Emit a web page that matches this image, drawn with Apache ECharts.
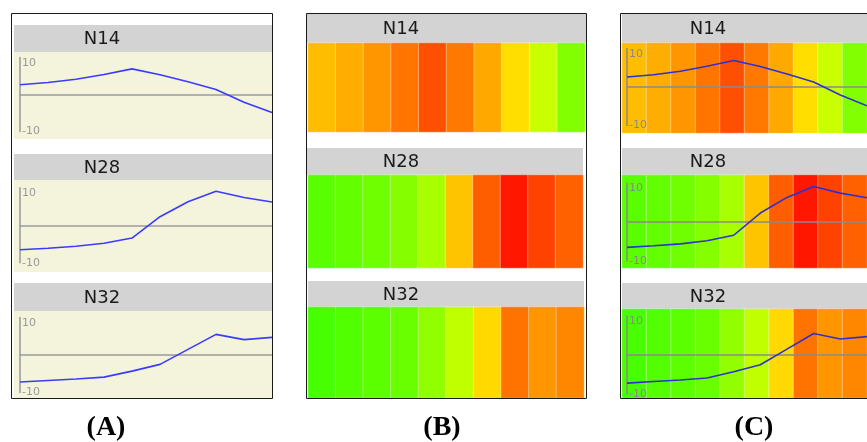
<!DOCTYPE html>
<html><head><meta charset="utf-8">
<script src="https://cdn.jsdelivr.net/npm/echarts@6/dist/echarts.min.js"></script>
<style>html,body{margin:0;padding:0;background:#fff}#c{width:867px;height:442px}</style>
</head><body><div id="c"></div>
<script>
// ---- data ----
const rowNames = ['N14', 'N28', 'N32'];
const steps = ['1', '2', '3', '4', '5', '6', '7', '8', '9', '10'];
const n14 = [2.6, 3.2, 4.1, 5.4, 6.9, 5.3, 3.4, 1.3, -2.1, -4.9];
const n28 = [-6.5, -6.1, -5.6, -4.8, -3.4, 2.3, 6.3, 9.1, 7.4, 6.2];
const n32 = [-7.2, -6.8, -6.4, -5.9, -4.3, -2.5, 1.5, 5.5, 4.1, 4.7];
const yTicks = [-10, 10];
const panelLabels = ['(A)', '(B)', '(C)'];
const rowValues = [n14, n28, n32];

// ---- layout ----
const L = {
  aLine: [{x:20,y:57.4,w:252,h:74},{x:20,y:187.8,w:252,h:75},{x:20,y:317.5,w:252,h:75}],
  bHeat: [{x:308,y:43,w:277,h:89},{x:308,y:175,w:275,h:93},{x:308,y:307,w:276,h:91}],
  cHeat: [{x:622,y:43,w:262,h:90},{x:622,y:175,w:262,h:93},{x:622,y:309,w:262,h:89}],
  cLine: [{x:627,y:48.5,w:249,h:77},{x:627,y:183,w:249,h:78},{x:627,y:316,w:249,h:78}],
  aHead: [{x:14,y:25,w:258,h:27},{x:14,y:154,w:258,h:26},{x:14,y:283,w:258,h:28}],
  aBeige:[{x:14,y:52,w:258,h:87},{x:14,y:180,w:258,h:92},{x:14,y:311,w:258,h:87}],
  bHead: [{x:307,y:14,w:279,h:29},{x:307,y:148,w:276,h:27},{x:308,y:281,w:276,h:26}],
  cHead: [{x:622,y:14,w:260,h:29},{x:622,y:148,w:260,h:27},{x:622,y:283,w:260,h:26}],
  headTextX: [102, 401, 708],
  frames: [{x:11.5,y:13.5,w:261,h:385},{x:306.5,y:13.5,w:280,h:385},{x:620.5,y:13.5,w:300,h:385}],
  labelX: [106, 442, 754], labelY: 428
};

const grids = [], xAxes = [], yAxes = [], series = [], heatIdx = [];

function addLine(g, values, lineColor, axisColor, labelColor) {
  const gi = grids.length;
  grids.push({left:g.x, top:g.y, width:g.w, height:g.h});
  xAxes.push({gridIndex:gi, type:'category', data:steps, boundaryGap:false, z:8,
    axisLine:{show:true, onZero:true, lineStyle:{color:axisColor, width:1.5}},
    axisTick:{show:false}, axisLabel:{show:false}, splitLine:{show:false}});
  const yi = yAxes.length;
  const common = {gridIndex:gi, type:'value', position:'left', offset:0, z:8,
    min:yTicks[0], max:yTicks[1], interval:10,
    axisTick:{show:false}, splitLine:{show:false}};
  yAxes.push(Object.assign({}, common, {
    axisLine:{show:true, onZero:false, lineStyle:{color:axisColor, width:1.5}},
    axisLabel:{inside:true, margin:2, color:labelColor, fontSize:11, fontFamily:'DejaVu Sans',
      verticalAlign:'top', formatter: v => v === yTicks[1] ? String(v) : ''}}));
  yAxes.push(Object.assign({}, common, {
    axisLine:{show:false, onZero:false},
    axisLabel:{inside:true, margin:2, color:labelColor, fontSize:11, fontFamily:'DejaVu Sans',
      verticalAlign:'middle', formatter: v => v === yTicks[0] ? String(v) : ''}}));
  series.push({type:'line', xAxisIndex:gi, yAxisIndex:yi, data:values, symbol:'none',
    lineStyle:{color:lineColor, width:1.6}, itemStyle:{color:lineColor}, z:9, silent:true});
}

function addHeat(g, values, name) {
  const gi = grids.length;
  grids.push({left:g.x, top:g.y, width:g.w, height:g.h});
  xAxes.push({gridIndex:gi, type:'category', data:steps, show:false});
  const yi = yAxes.length;
  yAxes.push({gridIndex:gi, type:'category', data:[name], show:false});
  series.push({type:'heatmap', xAxisIndex:gi, yAxisIndex:yi,
    data: values.map((v, i) => [i, 0, v]),
    itemStyle:{borderColor:'rgba(255,255,255,0.35)', borderWidth:1},
    emphasis:{disabled:true}, z:1, silent:true});
  heatIdx.push(series.length - 1);
}

for (let r = 0; r < 3; r++) {
  addLine(L.aLine[r], rowValues[r], '#3b3bff', '#9a9a9a', '#9a9a9a');
  addHeat(L.bHeat[r], rowValues[r], rowNames[r]);
  addHeat(L.cHeat[r], rowValues[r], rowNames[r]);
  addLine(L.cLine[r], rowValues[r], '#3030d0', '#8a8a8a', '#8a8a8a');
}

const graphics = [];
const rect = (g, fill, z) => ({type:'rect', shape:{x:g.x, y:g.y, width:g.w, height:g.h}, style:{fill:fill}, z:z, silent:true});
for (let r = 0; r < 3; r++) {
  graphics.push(rect(L.aBeige[r], '#f4f4dc', 0));
  graphics.push(rect(L.aHead[r], '#d3d3d3', 0));
  graphics.push(rect(L.bHead[r], '#d3d3d3', 0));
  graphics.push(rect(L.cHead[r], '#d3d3d3', 0));
  [L.aHead[r], L.bHead[r], L.cHead[r]].forEach((h, p) => {
    graphics.push({type:'text', x:L.headTextX[p], y:h.y + h.h / 2 + 1, z:20, silent:true,
      style:{text:rowNames[r], fill:'#1a1a1a', font:'18px "DejaVu Sans"', textAlign:'center', textVerticalAlign:'middle'}});
  });
}
L.frames.forEach(f => graphics.push({type:'rect', shape:{x:f.x, y:f.y, width:f.w, height:f.h},
  style:{fill:null, stroke:'#1a1a1a', lineWidth:1}, z:30, silent:true}));
panelLabels.forEach((t, p) => graphics.push({type:'text', x:L.labelX[p], y:L.labelY, z:20, silent:true,
  style:{text:t, fill:'#000', font:'bold 28px "Liberation Serif"', textAlign:'center', textVerticalAlign:'middle'}}));

const chart = echarts.init(document.getElementById('c'), null, {renderer:'canvas'});
chart.setOption({
  animation:false,
  backgroundColor:'#ffffff',
  grid: grids, xAxis: xAxes, yAxis: yAxes,
  visualMap: {type:'continuous', show:false, min:yTicks[0], max:yTicks[1], seriesIndex:heatIdx,
    inRange:{color:['#00ff00', '#ffff00', '#ff0000']}},
  graphic: {elements: graphics},
  series: series
});
</script></body></html>
